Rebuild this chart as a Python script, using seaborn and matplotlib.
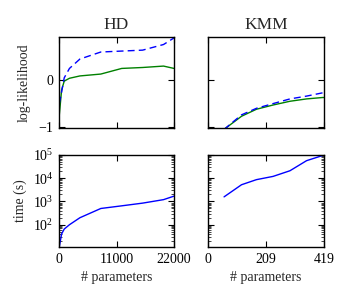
import numpy as np
import pandas as pd
import seaborn as sns
import matplotlib
matplotlib.use("Agg")
import matplotlib.pyplot as plt
from matplotlib.ticker import LogLocator, NullFormatter

# HD data
hd_params = [50, 500, 1000, 2000, 4000, 8000, 12000, 16000, 20000, 22000]
hd_ll_green = [-0.75, -0.21, -0.02, 0.04, 0.09, 0.13, 0.25, 0.27, 0.30, 0.25]
hd_ll_blue = [-0.5, -0.25, 0.05, 0.25, 0.45, 0.60, 0.62, 0.64, 0.76, 0.90]
hd_time = [11, 40, 65, 100, 200, 500, 650, 850, 1200, 1700]

# KMM data
kmm_params = [58, 121, 175, 235, 296, 356, 414, 419]
kmm_ll_green = [-1.05, -0.77, -0.62, -0.53, -0.45, -0.40, -0.37, -0.37]
kmm_ll_blue = [-1.05, -0.74, -0.60, -0.50, -0.40, -0.34, -0.27, -0.26]
kmm_time = [1580, 5250, 8700, 12000, 21000, 57000, 95000, 100000]

sns.set_style("ticks")
plt.rcParams['font.family'] = ['Liberation Serif', 'DejaVu Serif']
plt.rcParams['mathtext.fontset'] = 'stix'
plt.rcParams['xtick.direction'] = 'in'
plt.rcParams['ytick.direction'] = 'in'
plt.rcParams['xtick.top'] = True
plt.rcParams['ytick.right'] = True

fig = plt.figure(figsize=(3.5, 3.0), dpi=100)
L1, R1 = 59/350, 174/350
L2, R2 = 208/350, 324/350
T1, B1 = 1-37/300, 1-128/300
T2, B2 = 1-155/300, 1-247/300

ax_hd_ll = fig.add_axes([L1, B1, R1-L1, T1-B1])
ax_kmm_ll = fig.add_axes([L2, B1, R2-L2, T1-B1])
ax_hd_t = fig.add_axes([L1, B2, R1-L1, T2-B2])
ax_kmm_t = fig.add_axes([L2, B2, R2-L2, T2-B2])

blue = (0, 0, 1)
green = (0, 0.5, 0)

def draw(ax, x, y, color, dashes=None):
    df = pd.DataFrame({"x": x, "y": y})
    if dashes:
        sns.lineplot(data=df, x="x", y="y", ax=ax, color=color, lw=1.0, dashes=False, linestyle=(0, (5, 3)))
    else:
        sns.lineplot(data=df, x="x", y="y", ax=ax, color=color, lw=1.0)

draw(ax_hd_ll, hd_params, hd_ll_green, green)
draw(ax_hd_ll, hd_params, hd_ll_blue, blue, dashes=True)
draw(ax_kmm_ll, kmm_params, kmm_ll_green, green)
draw(ax_kmm_ll, kmm_params, kmm_ll_blue, blue, dashes=True)
draw(ax_hd_t, hd_params, hd_time, blue)
draw(ax_kmm_t, kmm_params, kmm_time, blue)

for ax in [ax_hd_ll, ax_kmm_ll]:
    ax.set_ylim(-1.02, 0.92)
    ax.set_yticks([-1, 0])
for ax in [ax_hd_t, ax_kmm_t]:
    ax.set_yscale('log')
    ax.set_ylim(11, 1e5)
    ax.yaxis.set_major_locator(LogLocator(base=10, numticks=10))
    ax.yaxis.set_minor_locator(LogLocator(base=10, subs=np.arange(2, 10), numticks=20))
    ax.yaxis.set_minor_formatter(NullFormatter())

for ax in [ax_hd_ll, ax_hd_t]:
    ax.set_xlim(0, 22000)
    ax.set_xticks([0, 11000, 22000])
for ax in [ax_kmm_ll, ax_kmm_t]:
    ax.set_xlim(0, 419)
    ax.set_xticks([0, 209, 419])

for ax in [ax_hd_ll, ax_kmm_ll, ax_hd_t, ax_kmm_t]:
    ax.set_xlabel("")
    ax.set_ylabel("")
    for s in ax.spines.values():
        s.set_linewidth(1.0)
        s.set_color('black')
    ax.tick_params(which='major', length=4, width=0.8, labelsize=10, colors='black', pad=4)
    ax.tick_params(which='minor', length=2, width=0.6)

ax_hd_ll.tick_params(labelbottom=False)
ax_kmm_ll.tick_params(labelbottom=False, labelleft=False)
ax_kmm_t.tick_params(labelleft=False)

ax_hd_ll.set_title("HD", fontsize=12.5, pad=6)
ax_kmm_ll.set_title("KMM", fontsize=12.5, pad=6)
ax_hd_ll.set_ylabel("log-likelihood", fontsize=10, labelpad=6)
ax_hd_t.set_ylabel("time (s)", fontsize=10, labelpad=4)
ax_hd_t.set_xlabel("# parameters", fontsize=10, labelpad=4)
ax_kmm_t.set_xlabel("# parameters", fontsize=10, labelpad=4)

fig.savefig("out.png", dpi=100, facecolor='white')
